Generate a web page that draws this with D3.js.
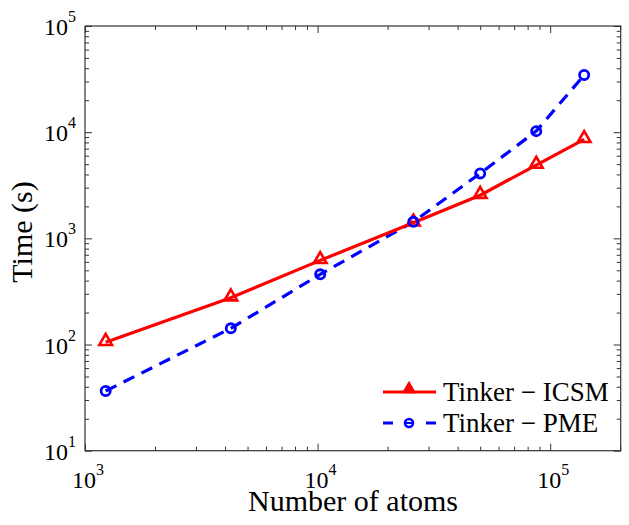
<!DOCTYPE html>
<html><head><meta charset="utf-8">
<script src="https://cdn.jsdelivr.net/npm/d3@7"></script>
<style>body{margin:0;background:#fff}svg{display:block}</style>
</head><body>
<script>
const atoms = [1227, 4235, 10260, 25800, 50000, 87100, 140000];
const icsm  = [105, 276, 620, 1400, 2550, 4900, 8550];
const pme   = [36.5, 142, 458, 1430, 4090, 10230, 34500];
const seriesNames = ["Tinker \u2212 ICSM", "Tinker \u2212 PME"];
const xMajor = [1e3, 1e4, 1e5];
const yMajor = [1e1, 1e2, 1e3, 1e4, 1e5];
const xLabel = "Number of atoms";
const yLabel = "Time (s)";

const W = 629, H = 525;
const FONT = "Liberation Serif, Times New Roman, Times, DejaVu Serif, serif";
const m = {l: 85, t: 26, r: 629 - 620.7, b: 525 - 450.7};
const svg = d3.select("body").append("svg").attr("width", W).attr("height", H)
  .attr("font-family", FONT);
const x = d3.scaleLog().domain([1e3, 2.01e5]).range([m.l, W - m.r]);
const y = d3.scaleLog().domain([1e1, 1e5]).range([H - m.b, m.t]);

const minorX = [], minorY = [];
for (let d = 1e3; d < 2.01e5; d *= 10) for (let k = 2; k <= 9; k++) if (d * k <= 2.01e5) minorX.push(d * k);
for (let d = 1e1; d < 1e5; d *= 10) for (let k = 2; k <= 9; k++) minorY.push(d * k);

const axisColor = "#333";
function drawAxis(gen, tr) {
  const g = svg.append("g").attr("transform", tr).call(gen);
  g.select(".domain").remove();
  g.selectAll("line").attr("stroke", axisColor).attr("stroke-width", 1);
  g.selectAll("text").remove();
}
const bottomY = H - m.b, rightX = W - m.r;
drawAxis(d3.axisBottom(x).tickValues(xMajor).tickSize(-7).tickFormat(""), `translate(0,${bottomY})`);
drawAxis(d3.axisBottom(x).tickValues(minorX).tickSize(-4).tickFormat(""), `translate(0,${bottomY})`);
drawAxis(d3.axisTop(x).tickValues(xMajor).tickSize(-7).tickFormat(""), `translate(0,${m.t})`);
drawAxis(d3.axisTop(x).tickValues(minorX).tickSize(-4).tickFormat(""), `translate(0,${m.t})`);
drawAxis(d3.axisLeft(y).tickValues(yMajor).tickSize(-7).tickFormat(""), `translate(${m.l},0)`);
drawAxis(d3.axisLeft(y).tickValues(minorY).tickSize(-4).tickFormat(""), `translate(${m.l},0)`);
drawAxis(d3.axisRight(y).tickValues(yMajor).tickSize(-7).tickFormat(""), `translate(${rightX},0)`);
drawAxis(d3.axisRight(y).tickValues(minorY).tickSize(-4).tickFormat(""), `translate(${rightX},0)`);

svg.append("rect").attr("x", m.l).attr("y", m.t).attr("width", rightX - m.l).attr("height", bottomY - m.t)
  .attr("fill", "none").attr("stroke", axisColor).attr("stroke-width", 1.2);

// tick labels
xMajor.forEach(v => {
  const t = svg.append("text").attr("x", x(v) + 3).attr("y", bottomY + 37).attr("text-anchor", "middle").attr("font-size", 24);
  t.append("tspan").text("10");
  t.append("tspan").attr("dy", -13).attr("font-size", 16).text(String(Math.round(Math.log10(v))));
});
yMajor.forEach(v => {
  const t = svg.append("text").attr("x", 76).attr("y", y(v) + 9).attr("text-anchor", "end").attr("font-size", 24);
  t.append("tspan").text("10");
  t.append("tspan").attr("dy", -13).attr("font-size", 16).text(String(Math.round(Math.log10(v))));
});

svg.append("text").attr("x", 353).attr("y", 511).attr("text-anchor", "middle").attr("font-size", 30).text(xLabel);
svg.append("text").attr("transform", "translate(32,232) rotate(-90)").attr("text-anchor", "middle").attr("font-size", 30).text(yLabel);

const line = d3.line().x(d => x(d[0])).y(d => y(d[1]));
const dI = atoms.map((a, i) => [a, icsm[i]]);
const dP = atoms.map((a, i) => [a, pme[i]]);
const red = "#ff0000", blue = "#0000ff";

svg.append("path").datum(dP).attr("d", line).attr("fill", "none").attr("stroke", blue).attr("stroke-width", 3.2).attr("stroke-dasharray", "12,8");
svg.append("path").datum(dI).attr("d", line).attr("fill", "none").attr("stroke", red).attr("stroke-width", 3.2);

const tri = d3.symbol().type(d3.symbolTriangle).size(70);
const triS = d3.symbol().type(d3.symbolTriangle).size(45);
svg.selectAll(".tri").data(dI).enter().append("path").attr("d", tri)
  .attr("transform", d => `translate(${x(d[0])},${y(d[1]) - 1})`)
  .attr("fill", "none").attr("stroke", red).attr("stroke-width", 2.6);
svg.selectAll(".circ").data(dP).enter().append("circle")
  .attr("cx", d => x(d[0])).attr("cy", d => y(d[1])).attr("r", 4.6)
  .attr("fill", "none").attr("stroke", blue).attr("stroke-width", 2.8);

// legend
const lg = svg.append("g");
const ly1 = 392, ly2 = 423;
lg.append("line").attr("x1", 383).attr("x2", 436).attr("y1", ly1).attr("y2", ly1).attr("stroke", red).attr("stroke-width", 3.2);
lg.append("path").attr("d", triS).attr("transform", `translate(409,${ly1 - 3})`).attr("fill", red).attr("stroke", red).attr("stroke-width", 2.4);
lg.append("line").attr("x1", 383).attr("x2", 436).attr("y1", ly2).attr("y2", ly2).attr("stroke", blue).attr("stroke-width", 3.2).attr("stroke-dasharray", "10,33,10");
lg.append("circle").attr("cx", 409).attr("cy", ly2).attr("r", 4).attr("fill", "none").attr("stroke", blue).attr("stroke-width", 2.6);
lg.append("line").attr("x1", 405).attr("x2", 413).attr("y1", ly2).attr("y2", ly2).attr("stroke", blue).attr("stroke-width", 2);
lg.append("text").attr("x", 443).attr("y", ly1 + 9).attr("font-size", 27).text(seriesNames[0]);
lg.append("text").attr("x", 443).attr("y", ly2 + 9).attr("font-size", 27).text(seriesNames[1]);
</script>
</body></html>
